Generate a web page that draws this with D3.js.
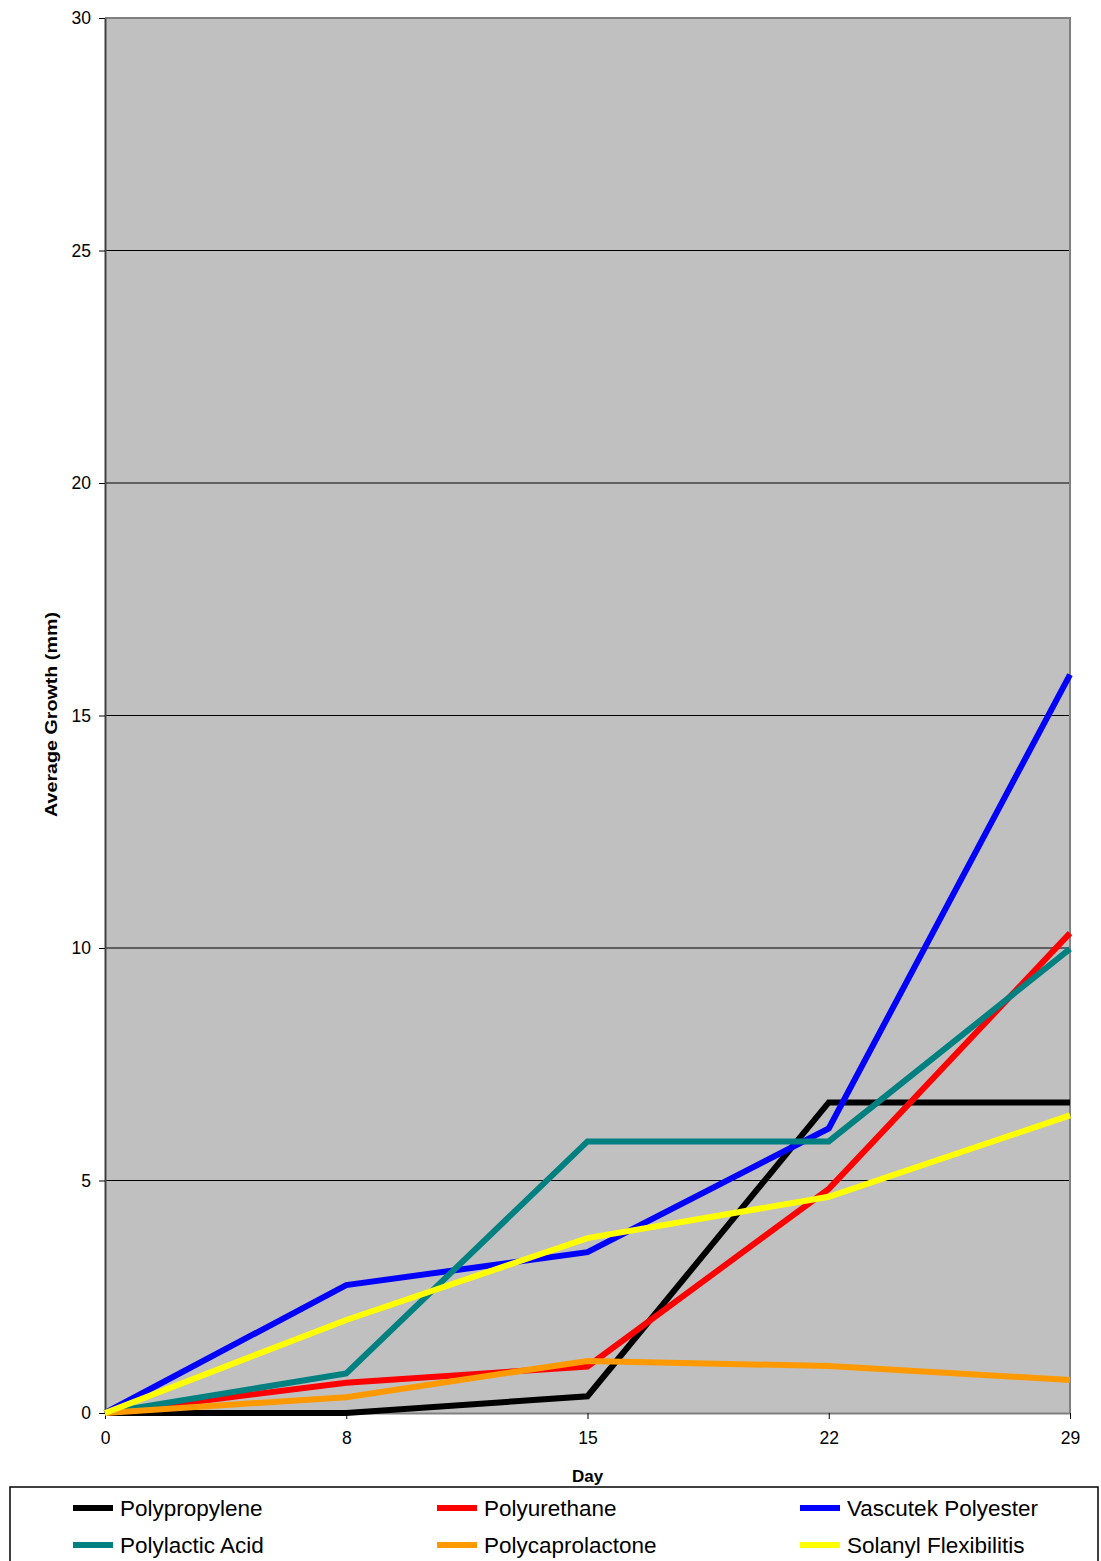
<!DOCTYPE html>
<html>
<head>
<meta charset="utf-8">
<script src="https://cdn.jsdelivr.net/npm/d3@7"></script>
<style>
  html, body { margin: 0; padding: 0; background: #fff; }
  svg { display: block; font-family: "Liberation Sans", Arial, sans-serif; }
</style>
</head>
<body>
<svg id="chart" width="1101" height="1561"></svg>
<script>
// Day categories on the x axis
const days = ["0", "8", "15", "22", "29"];
const yTicks = [0, 5, 10, 15, 20, 25, 30];

// Average growth (mm) per material
const polypropylene    = [0, 0, 0.36, 6.68, 6.68];
const polyurethane     = [0, 0.65, 1.0, 4.82, 10.32];
const vascutek         = [0, 2.75, 3.46, 6.12, 15.88];
const polylactic       = [0, 0.85, 5.84, 5.84, 9.98];
const polycaprolactone = [0, 0.34, 1.12, 1.01, 0.71];
const solanyl          = [0, 2.0, 3.76, 4.65, 6.4];

const seriesNames  = ["Polypropylene", "Polyurethane", "Vascutek Polyester",
                      "Polylactic Acid", "Polycaprolactone", "Solanyl Flexibilitis"];
const seriesValues = [polypropylene, polyurethane, vascutek,
                      polylactic, polycaprolactone, solanyl];
const seriesColors = ["#000000", "#ff0000", "#0000ff", "#008080", "#ff9900", "#ffff00"];

const svg = d3.select("#chart");
const plot = { left: 105, right: 1070, top: 18, bottom: 1413 };

const x = d3.scalePoint().domain(days).range([plot.left, plot.right]);
const y = d3.scaleLinear().domain([0, 30]).range([plot.bottom, plot.top]);

// plot background
svg.append("rect")
  .attr("x", plot.left).attr("y", plot.top)
  .attr("width", plot.right - plot.left).attr("height", plot.bottom - plot.top)
  .attr("fill", "#c0c0c0");

// horizontal gridlines
svg.append("g").selectAll("line")
  .data(yTicks.filter(t => t > 0 && t < 30))
  .join("line")
  .attr("x1", plot.left).attr("x2", plot.right)
  .attr("y1", d => y(d)).attr("y2", d => y(d))
  .attr("stroke", "#000").attr("stroke-width", 1);

// plot frame (top / right)
svg.append("path")
  .attr("d", `M${plot.left},${plot.top}H${plot.right}V${plot.bottom}`)
  .attr("fill", "none").attr("stroke", "#808080").attr("stroke-width", 2);

// y axis
const yAxis = svg.append("g")
  .attr("transform", `translate(${plot.left},0)`)
  .call(d3.axisLeft(y).tickValues(yTicks).tickSize(6).tickPadding(8).tickSizeOuter(0));
yAxis.select(".domain").attr("stroke", "#404040").attr("stroke-width", 2);
yAxis.selectAll(".tick line").attr("stroke", "#000");
yAxis.selectAll("text").attr("font-size", 17.5).attr("fill", "#000")
  .attr("font-family", "Liberation Sans, Arial, sans-serif");

// x axis
const xAxis = svg.append("g")
  .attr("transform", `translate(0,${plot.bottom})`)
  .call(d3.axisBottom(x).tickSize(6).tickPadding(13).tickSizeOuter(0));
xAxis.select(".domain").attr("stroke", "#808080").attr("stroke-width", 2);
xAxis.selectAll(".tick line").attr("stroke", "#000");
xAxis.selectAll("text").attr("font-size", 17.5).attr("fill", "#000")
  .attr("font-family", "Liberation Sans, Arial, sans-serif");

// series lines
const line = d3.line()
  .x((d, i) => x(days[i]))
  .y(d => y(d));

svg.append("g").selectAll("path")
  .data(seriesValues)
  .join("path")
  .attr("d", d => line(d))
  .attr("fill", "none")
  .attr("stroke", (d, i) => seriesColors[i])
  .attr("stroke-width", 6)
  .attr("stroke-linejoin", "miter");

// axis titles
svg.append("text")
  .attr("x", (plot.left + plot.right) / 2)
  .attr("y", 1482)
  .attr("text-anchor", "middle")
  .attr("font-size", 17).attr("font-weight", "bold")
  .text("Day");

svg.append("text")
  .attr("transform", `translate(57,${(612 + 817) / 2}) rotate(-90)`)
  .attr("text-anchor", "middle")
  .attr("font-size", 16.5).attr("font-weight", "bold")
  .attr("textLength", 205).attr("lengthAdjust", "spacingAndGlyphs")
  .text("Average Growth (mm)");

// legend
svg.append("rect")
  .attr("x", 10).attr("y", 1487)
  .attr("width", 1088).attr("height", 90)
  .attr("fill", "#fff").attr("stroke", "#000").attr("stroke-width", 1.5);

const colX = [73, 437, 800];
const rowY = [1508, 1545];
const legendItems = svg.append("g").selectAll("g")
  .data(seriesNames)
  .join("g")
  .attr("transform", (d, i) => `translate(${colX[i % 3]},${rowY[Math.floor(i / 3)]})`);

legendItems.append("line")
  .attr("x1", 0).attr("x2", 40)
  .attr("y1", 0).attr("y2", 0)
  .attr("stroke", (d, i) => seriesColors[i])
  .attr("stroke-width", 6);

legendItems.append("text")
  .attr("x", 47).attr("y", 0)
  .attr("dy", "0.36em")
  .attr("font-size", 22.5)
  .text(d => d);
</script>
</body>
</html>
